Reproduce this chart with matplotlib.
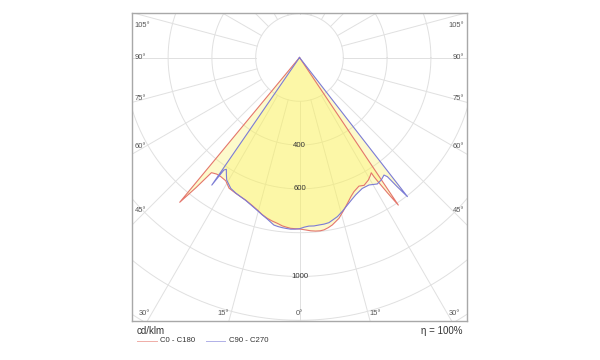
import matplotlib.pyplot as plt
import numpy as np
from matplotlib.lines import Line2D

plt.rcParams['font.family'] = ['Liberation Sans', 'DejaVu Sans']

# C0 - C180 plane (red). gamma in degrees from nadir, intensity in cd/klm
c0_gamma = [0, 2.1, 3.7, 5.3, 6.8, 8.1, 9.6, 11.1, 13.8, 16.0, 18.2, 20.2, 22.1, 24.8, 26.8, 29.3, 30.8,
            31.9, 32.0, 32.2, 33.0, 33.8, 34.5, 90]
c0_int = [783, 788, 793, 796, 797, 795, 788, 779, 756, 728, 701, 678, 661, 647, 654, 642, 630,
          620, 642, 661, 735, 811, 0, 0]
c180_gamma = [0, 1.5, 3.0, 4.4, 5.8, 7.6, 9.5, 11.3, 13.4, 15.5, 18.0, 20.7, 23.0, 25.2, 28.3, 30.9, 33.5,
              35.4, 37.4, 38.5, 39.6, 40.2, 90]
c180_int = [783, 782, 781, 777, 773, 764, 757, 749, 737, 722, 708, 696, 690, 685, 678, 656, 652,
            653, 662, 760, 858, 0, 0]

# C90 - C270 plane (blue)
c90_gamma = [0, 1.6, 3.2, 4.9, 6.6, 8.4, 10.1, 13.4, 15.7, 18.0, 20.1, 22.2, 25.6, 28.6, 31.6, 33.8,
             35.7, 36.4, 37.1, 37.8, 38.4, 90]
c90_int = [782, 775, 771, 772, 770, 769, 766, 747, 728, 708, 692, 678, 663, 663, 678, 672,
           661, 676, 740, 804, 0, 0]
c270_gamma = [0, 1.5, 2.9, 4.4, 5.8, 7.3, 8.7, 11.3, 13.4, 15.5, 18.0, 20.7, 23.0, 25.2, 27.7, 30.7,
              32.0, 33.2, 33.9, 34.5, 35.0, 90]
c270_int = [782, 784, 785, 783, 781, 778, 774, 752, 738, 724, 710, 697, 690, 684, 675, 651,
            630, 610, 619, 707, 0, 0]

ring_values = [200, 400, 600, 800, 1000, 1200, 1400, 1600]
ring_labels = [400, 600, 1000]
side_angles = [45, 60, 75, 90, 105]
bottom_angles = [0, 15, 30]

red = '#e4766c'
blue = '#7b7bd6'
fill = '#fbf25e'
grid = '#e0e0e0'
txt = '#555555'


def to_xy(g_right, i_right, g_left, i_left):
    # left half reversed then right half, nadir pointing down
    gl = np.radians(np.array(g_left[::-1]))
    il = np.array(i_left[::-1], dtype=float)
    gr = np.radians(np.array(g_right))
    ir = np.array(i_right, dtype=float)
    x = np.concatenate([-il * np.sin(gl), ir * np.sin(gr)])
    y = np.concatenate([-il * np.cos(gl), -ir * np.cos(gr)])
    return x, y


fig = plt.figure(figsize=(6, 3.6), dpi=100)
ax = fig.add_axes([132 / 600, 39 / 360, 335 / 600, 308 / 360])
ax.set_xlim(-764.8, 764.8)
ax.set_ylim(-1203.2, 203.2)
ax.set_xticks([])
ax.set_yticks([])
for sp in ax.spines.values():
    sp.set_color('#a8a8a8')
    sp.set_linewidth(1)

# polar grid
t = np.linspace(0, 2 * np.pi, 400)
for r in ring_values:
    ax.plot(r * np.cos(t), r * np.sin(t), color=grid, lw=0.7, zorder=1)
for a in range(0, 360, 15):
    ar = np.radians(a)
    ax.plot([200 * np.sin(ar), 2000 * np.sin(ar)], [-200 * np.cos(ar), -2000 * np.cos(ar)],
            color=grid, lw=0.7, zorder=1)

xr, yr = to_xy(c0_gamma, c0_int, c180_gamma, c180_int)
xb, yb = to_xy(c90_gamma, c90_int, c270_gamma, c270_int)
ax.fill(xr, yr, color=fill, alpha=0.32, lw=0, zorder=2)
ax.fill(xb, yb, color=fill, alpha=0.32, lw=0, zorder=2)
ax.plot(xr, yr, color=red, lw=0.8, zorder=3)
ax.plot(xb, yb, color=blue, lw=0.8, zorder=3)

for v in ring_labels:
    ax.text(0, -v, str(v), ha='center', va='center', fontsize=5.6, color='#333333', zorder=4)

for g in side_angles:
    y = min(-700 / np.tan(np.radians(g)), 148) if g != 90 else 0
    ax.text(-752, y, f'{g}°', ha='left', va='center', fontsize=5.4, color=txt)
    ax.text(752, y, f'{g}°', ha='right', va='center', fontsize=5.4, color=txt)

yb_lab = -1171
for g in bottom_angles:
    if g == 0:
        ax.text(0, yb_lab, '0°', ha='center', va='center', fontsize=5.4, color=txt)
    else:
        x = -yb_lab * np.tan(np.radians(g))
        ax.text(-x - 8, yb_lab, f'{g}°', ha='right', va='center', fontsize=5.4, color=txt)
        ax.text(x + 4, yb_lab, f'{g}°', ha='left', va='center', fontsize=5.4, color=txt)

# legend below the plot
fig.text(137 / 600, 1 - 331 / 360, 'cd/klm', ha='left', va='center', fontsize=7, color='#333333')
fig.text(463 / 600, 1 - 331 / 360, 'η = 100%', ha='right', va='center', fontsize=7, color='#333333')
ly = 1 - 341 / 360
fig.add_artist(Line2D([137 / 600, 157 / 600], [ly, ly], color=red, lw=0.7, alpha=0.6))
fig.text(160 / 600, ly, 'C0 - C180', ha='left', va='center', fontsize=5.6, color='#333333')
fig.add_artist(Line2D([206 / 600, 225 / 600], [ly, ly], color=blue, lw=0.7, alpha=0.6))
fig.text(229 / 600, ly, 'C90 - C270', ha='left', va='center', fontsize=5.6, color='#333333')

fig.savefig('out.png', dpi=100)
